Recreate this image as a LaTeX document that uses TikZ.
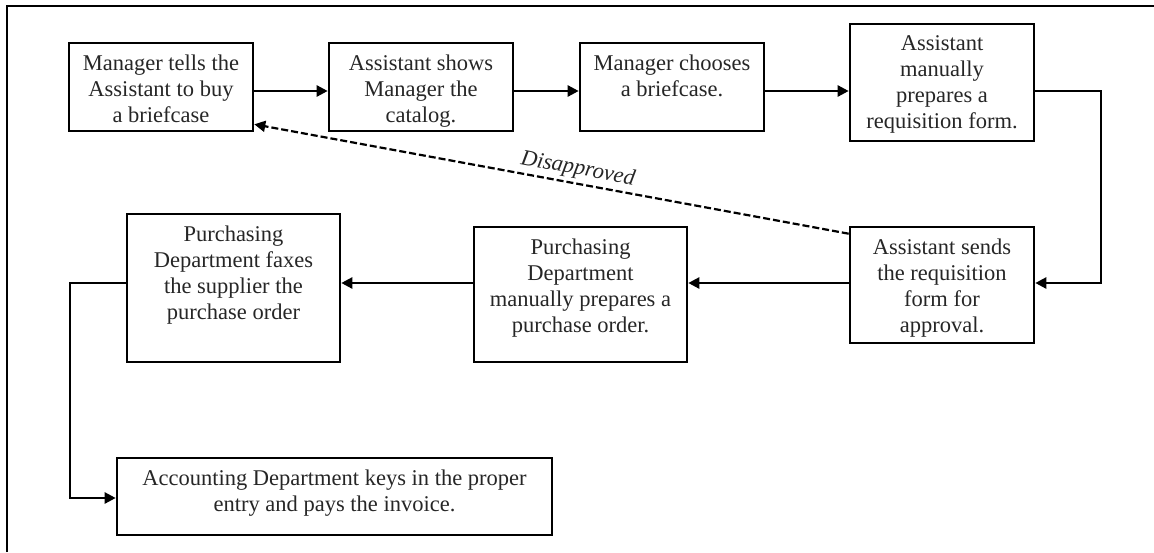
\documentclass[tikz,border=0pt]{standalone}
\usepackage{fontspec}
\setmainfont{Liberation Serif}
\usetikzlibrary{arrows.meta}

\tikzset{
  stepbox/.style={draw=black, line width=2.6pt, rectangle, inner sep=0pt},
  boxtext/.style={anchor=north, align=center, inner sep=0pt, yshift=-12.5pt,
    font=\fontsize{22.5}{26}\selectfont, text=black!85},
  flow/.style={line width=2.4pt, -{Triangle[length=11pt,width=11pt]}},
  backflow/.style={line width=2.2pt, dash pattern=on 7pt off 3pt,
    -{Triangle[length=11pt,width=11pt]}},
}

\begin{document}
\begin{tikzpicture}[x=1pt,y=-1pt]
  \useasboundingbox (0,0) rectangle (1154,552);

  % outer frame (only the top and left edges fall inside the page)
  \draw[line width=2.4pt] (7,552) -- (7,6) -- (1154,6);

  % first row
  \node[stepbox, minimum width=184pt, minimum height=88pt,
    label={[boxtext]north:{Manager tells the\\Assistant to buy\\a briefcase}}]
    (b1) at (161,87) {};
  \node[stepbox, minimum width=184pt, minimum height=88pt,
    label={[boxtext]north:{Assistant shows\\Manager the\\catalog.}}]
    (b2) at (421,87) {};
  \node[stepbox, minimum width=184pt, minimum height=88pt,
    label={[boxtext]north:{Manager chooses\\a briefcase.}}]
    (b3) at (672,87) {};
  \node[stepbox, minimum width=184pt, minimum height=117pt,
    label={[boxtext]north:{Assistant\\manually\\prepares a\\requisition form.}}]
    (b4) at (942,82.5) {};

  % second row
  \node[stepbox, minimum width=184pt, minimum height=116pt,
    label={[boxtext]north:{Assistant sends\\the requisition\\form for\\approval.}}]
    (b5) at (942,285) {};
  \node[stepbox, minimum width=213pt, minimum height=135pt,
    label={[boxtext]north:{Purchasing\\Department\\manually prepares a\\purchase order.}}]
    (b6) at (580.5,294.5) {};
  \node[stepbox, minimum width=213pt, minimum height=148pt,
    label={[boxtext]north:{Purchasing\\Department faxes\\the supplier the\\purchase order}}]
    (b7) at (233.5,288) {};

  % last step
  \node[stepbox, minimum width=435pt, minimum height=77pt,
    label={[boxtext]north:{Accounting Department keys in the proper\\entry and pays the invoice.}}]
    (b8) at (334.5,496.5) {};

  % routing points
  \coordinate (rowA) at (0,91);
  \coordinate (rowB) at (0,283);
  \coordinate (turnA) at (1101,91);
  \coordinate (turnB) at (1101,283);
  \coordinate (turnC) at (70,283);
  \coordinate (turnD) at (70,498);

  % connectors
  \draw[flow] (b1.east |- rowA) -- (b2.west |- rowA);
  \draw[flow] (b2.east |- rowA) -- (b3.west |- rowA);
  \draw[flow] (b3.east |- rowA) -- (b4.west |- rowA);
  \draw[flow] (b4.east |- turnA) -- (turnA) -- (turnB) -- (b5.east |- turnB);
  \draw[flow] (b5.west |- rowB) -- (b6.east |- rowB);
  \draw[flow] (b6.west |- rowB) -- (b7.east |- rowB);
  \draw[flow] (b7.west |- turnC) -- (turnC) -- (turnD) -- (b8.west |- turnD);

  % rejected requisition goes back to the start
  \draw[backflow] ([yshift=-8pt]b5.north west) --
    node[pos=0.46, sloped, above=3pt, inner sep=0pt, text=black!85,
      font=\fontsize{22.5}{26}\selectfont\itshape] (lbl) {Disapproved}
    ([yshift=8pt]b1.south east);
\end{tikzpicture}
\end{document}
